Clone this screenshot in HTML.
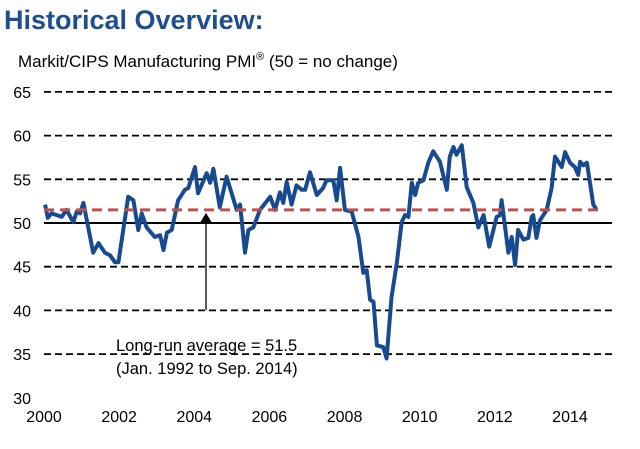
<!DOCTYPE html>
<html><head><meta charset="utf-8"><style>
body{margin:0;background:#fff;width:640px;height:444px;overflow:hidden;font-family:"Liberation Sans",sans-serif}
</style></head><body>
<svg width="640" height="444">
<text x="4" y="29" font-size="27" font-weight="bold" fill="#1f4e8c">Historical Overview:</text>
<text x="18" y="67" font-size="17" fill="#000">Markit/CIPS Manufacturing PMI<tspan font-size="11" dy="-7">®</tspan><tspan dy="7"> (50 = no change)</tspan></text>
<g id="grid"></g><g id="yt"></g><g id="xt"></g>
<path id="series" fill="none" stroke="#174a8f" stroke-width="4" stroke-linejoin="round"/>
<line id="avg" stroke="#c0504d" stroke-width="3" stroke-dasharray="10,6"/>
<line id="arrow" stroke="#000" stroke-width="1.3"/>
<polygon id="arrowhead" fill="#000"/>
<text x="116" y="351" font-size="16.5">Long-run average = 51.5</text>
<text x="116" y="374" font-size="16.5">(Jan. 1992 to Sep. 2014)</text>
</svg>
<script>
const yTicks=[30,35,40,45,50,55,60,65];
const xTicks=[2000,2002,2004,2006,2008,2010,2012,2014];
const avgValue=51.5;
const years=[2000.03,2000.1,2000.2,2000.34,2000.47,2000.6,2000.78,2000.87,2000.96,2001.05,2001.31,2001.45,2001.62,2001.76,2001.89,2001.98,2002.24,2002.38,2002.51,2002.6,2002.73,2002.95,2003.09,2003.18,2003.27,2003.4,2003.57,2003.75,2003.84,2004.02,2004.1,2004.33,2004.42,2004.51,2004.68,2004.86,2005.13,2005.22,2005.35,2005.44,2005.57,2005.75,2006.02,2006.15,2006.28,2006.37,2006.46,2006.59,2006.72,2006.86,2006.95,2007.08,2007.26,2007.43,2007.52,2007.7,2007.79,2007.88,2008.01,2008.19,2008.37,2008.5,2008.59,2008.68,2008.77,2008.86,2009.03,2009.12,2009.25,2009.39,2009.52,2009.61,2009.7,2009.79,2009.88,2009.96,2010.1,2010.23,2010.36,2010.54,2010.72,2010.8,2010.9,2010.98,2011.12,2011.25,2011.43,2011.56,2011.7,2011.85,2012.05,2012.14,2012.18,2012.36,2012.45,2012.54,2012.62,2012.76,2012.89,2012.98,2013.02,2013.11,2013.2,2013.38,2013.51,2013.6,2013.78,2013.87,2014.0,2014.13,2014.22,2014.27,2014.36,2014.45,2014.62,2014.71];
const values=[52.1,50.6,51.1,50.9,50.7,51.5,50.1,51.3,51.1,52.3,46.6,47.7,46.6,46.3,45.5,45.5,53.0,52.6,49.2,51.1,49.5,48.4,48.6,46.9,48.9,49.2,52.6,53.8,54.0,56.4,53.4,55.7,54.6,56.2,51.8,55.3,51.5,52.1,46.6,49.2,49.5,51.5,53.0,51.5,53.5,52.3,54.7,52.1,54.3,53.8,53.8,55.8,53.2,54.0,54.9,54.9,52.6,56.3,51.5,51.3,48.4,44.3,44.6,41.2,41.0,36.0,35.8,34.5,41.5,45.4,50.1,50.9,50.7,54.6,53.2,54.6,54.9,56.9,58.2,57.0,53.8,57.6,58.7,57.8,58.9,54.1,52.3,49.5,50.9,47.3,50.7,50.9,52.6,46.6,48.4,45.2,49.2,48.1,48.3,50.7,50.9,48.3,50.3,51.5,54.0,57.6,56.4,58.1,56.9,56.4,55.5,57.0,56.6,56.9,52.1,51.5];
const NS='http://www.w3.org/2000/svg';
const X=y=>44+(y-2000)*37.57;
const Y=v=>223-(v-50)*8.74;
const g=document.getElementById('grid'),yt=document.getElementById('yt'),xt=document.getElementById('xt');
yTicks.forEach(v=>{
 if(v===30)return;
 const l=document.createElementNS(NS,'line');
 l.setAttribute('x1',44);l.setAttribute('x2',612);l.setAttribute('y1',Y(v));l.setAttribute('y2',Y(v));
 l.setAttribute('stroke','#000');l.setAttribute('stroke-width',v===50?2:1.8);
 if(v!==50)l.setAttribute('stroke-dasharray','7,4');
 
 
 g.appendChild(l);
});
yTicks.forEach(v=>{
 const t=document.createElementNS(NS,'text');
 t.setAttribute('x',31);t.setAttribute('y',Y(v)+6);t.setAttribute('text-anchor','end');t.setAttribute('font-size','16');
 t.textContent=v;
 
 
 yt.appendChild(t);
});
xTicks.forEach(v=>{
 const t=document.createElementNS(NS,'text');
 t.setAttribute('x',X(v));t.setAttribute('y',422);t.setAttribute('text-anchor','middle');t.setAttribute('font-size','16');
 t.textContent=v;
 
 
 xt.appendChild(t);
});
document.getElementById('series').setAttribute('d',years.map((y,i)=>(i?'L':'M')+X(y).toFixed(1)+','+Y(values[i]).toFixed(1)).join(''));
const a=document.getElementById('avg');
a.setAttribute('x1',44);a.setAttribute('x2',600);a.setAttribute('y1',Y(avgValue));a.setAttribute('y2',Y(avgValue));
const ax=206,ay=Y(avgValue)+3;
const ar=document.getElementById('arrow');
ar.setAttribute('x1',ax);ar.setAttribute('x2',ax);ar.setAttribute('y1',ay+8);ar.setAttribute('y2',310);
document.getElementById('arrowhead').setAttribute('points',`${ax},${ay} ${ax-6},${ay+10} ${ax+6},${ay+10}`);
</script>
</body></html>
